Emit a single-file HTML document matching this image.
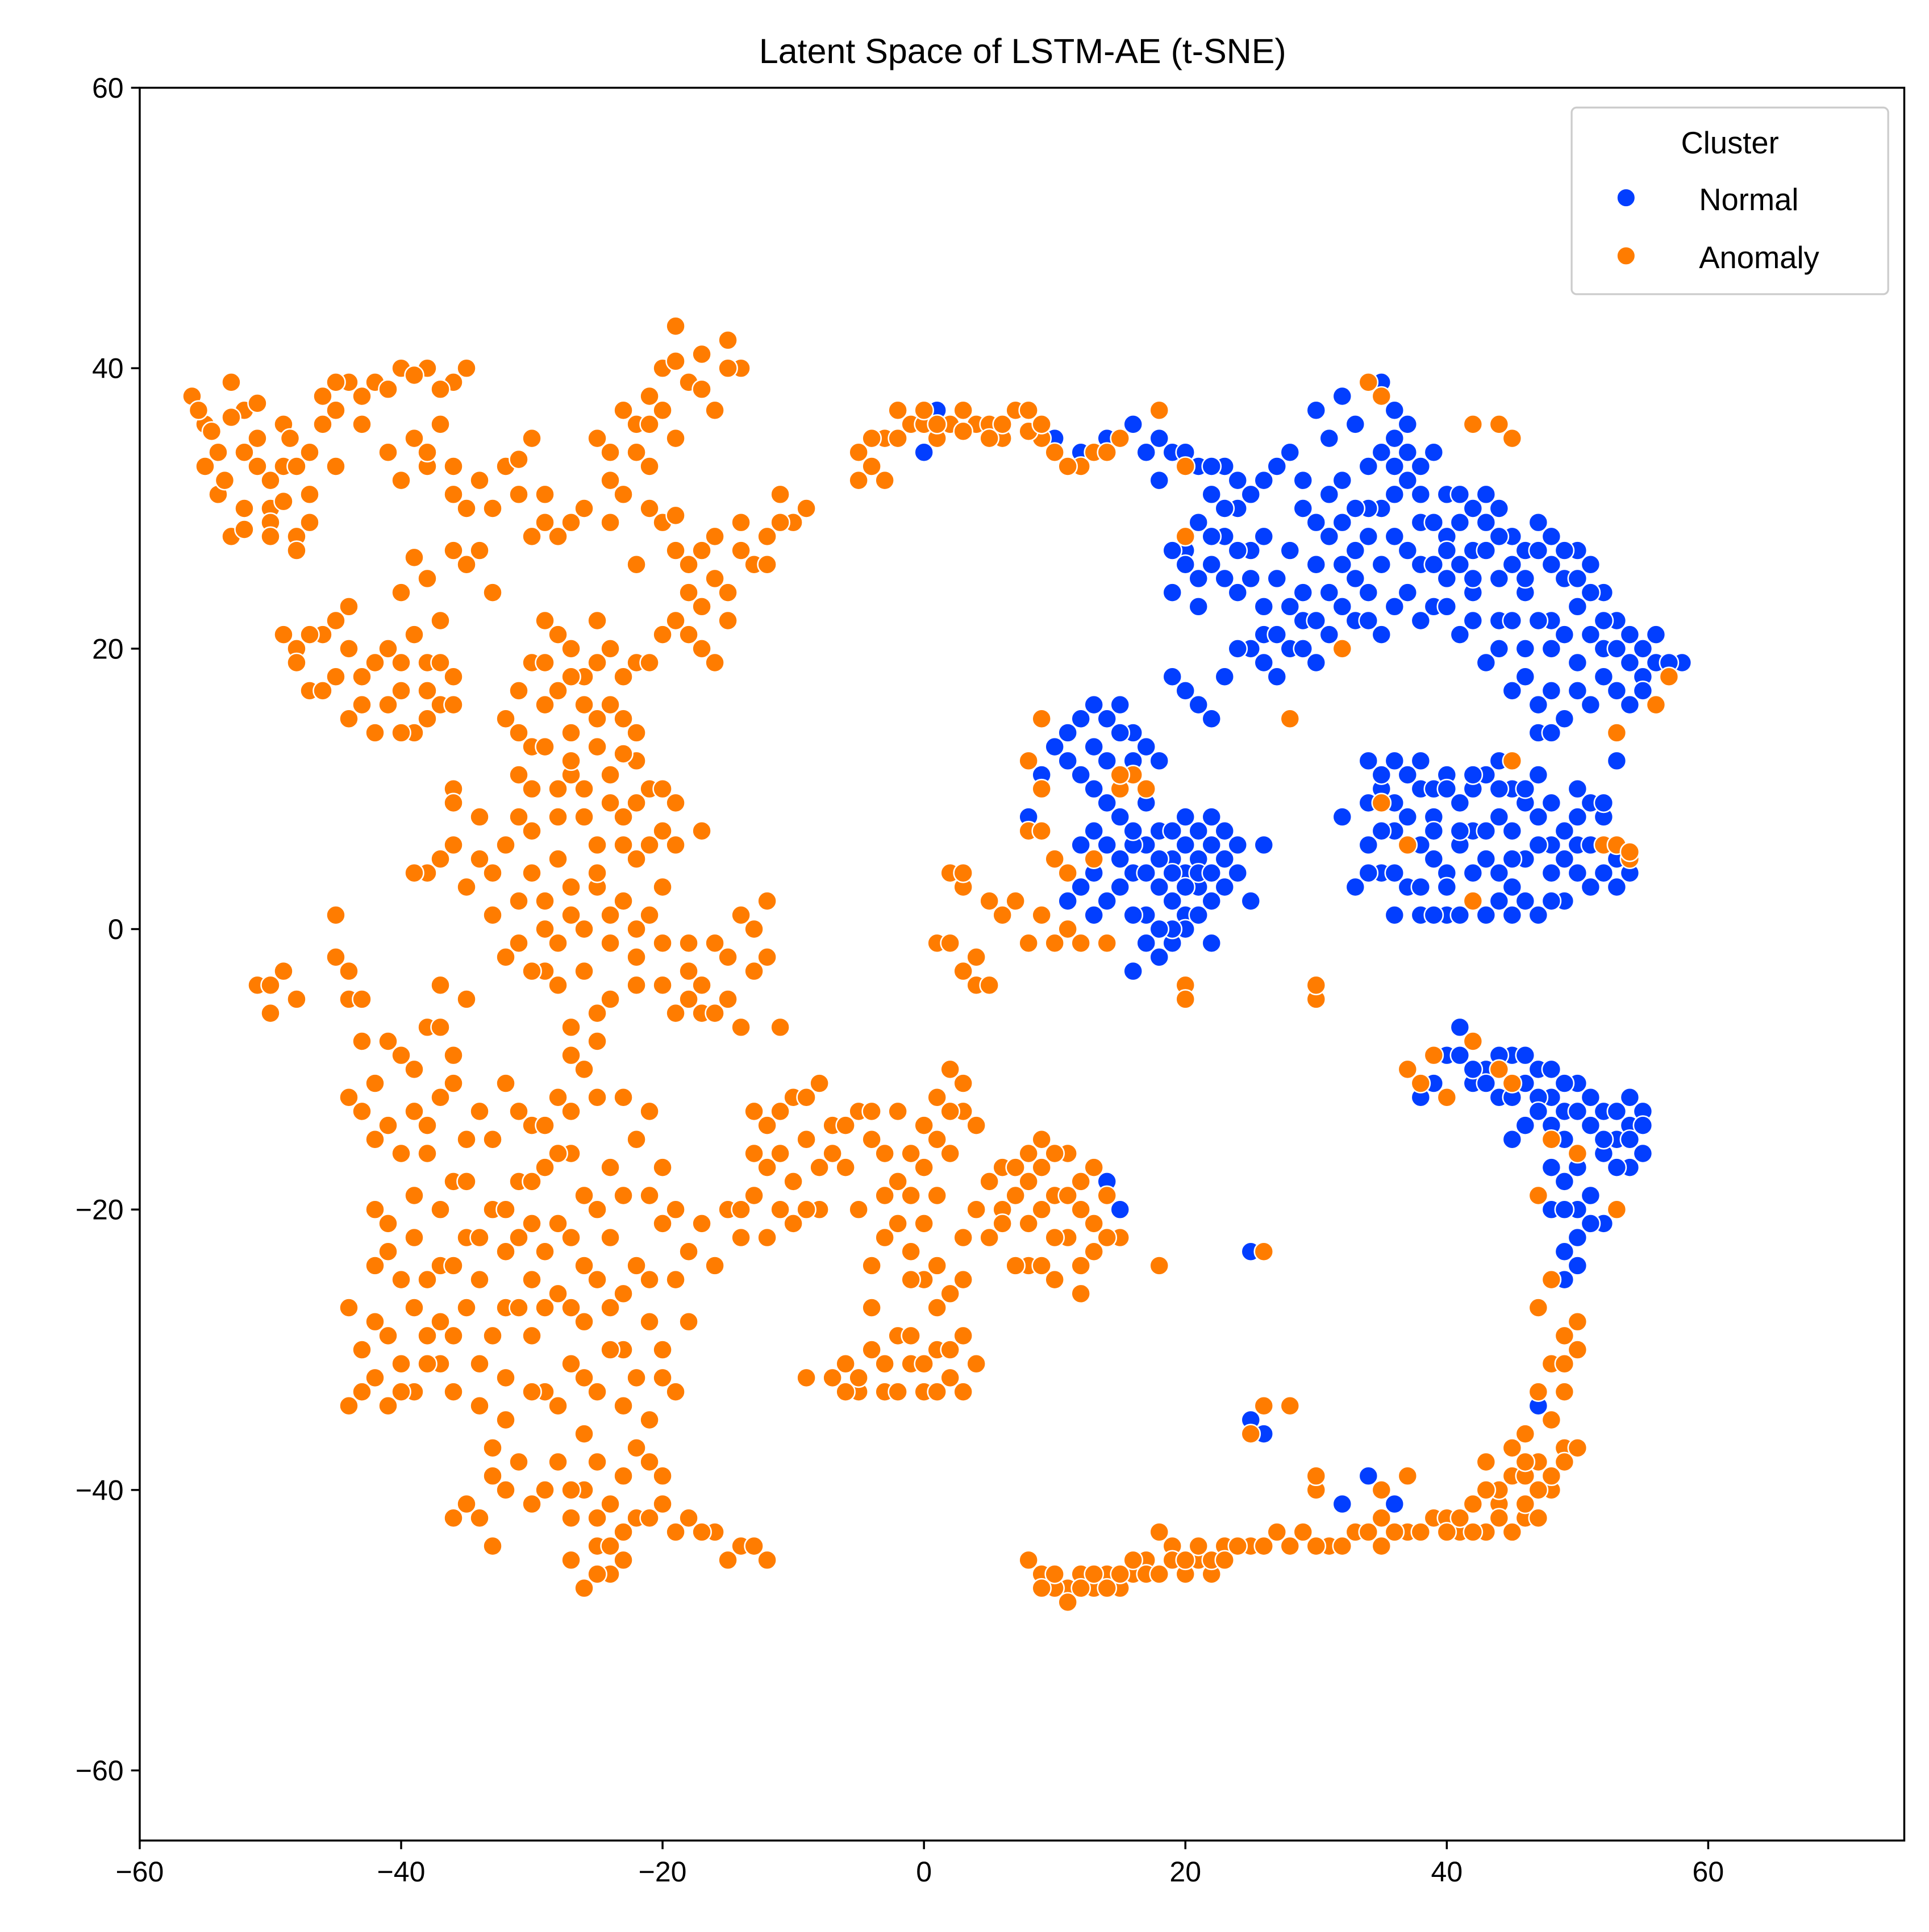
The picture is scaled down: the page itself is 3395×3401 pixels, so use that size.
<!DOCTYPE html>
<html><head><meta charset="utf-8"><style>
html,body{margin:0;padding:0;background:#fff}
svg{display:block;font-family:"Liberation Sans","DejaVu Sans",sans-serif}
</style></head><body>
<svg id="chart" width="3395" height="3401" viewBox="0 0 1560 1563" preserveAspectRatio="none" xmlns="http://www.w3.org/2000/svg">
<rect x="0" y="0" width="1560" height="1563" fill="#fff"/>
<text x="827" y="51" font-size="28" text-anchor="middle" fill="#000">Latent Space of LSTM-AE (t-SNE)</text>
<g id="points"></g>
<rect x="113" y="71" width="1427" height="1418" fill="none" stroke="#000" stroke-width="1.6"/>
<g id="xticks"></g>
<g id="yticks"></g>
<g>
<rect x="1271" y="87" width="256" height="151" rx="4" fill="#fff" fill-opacity="0.85" stroke="#ccc" stroke-width="1.5"/>
<text x="1399" y="124" font-size="25" text-anchor="middle">Cluster</text>
<circle cx="1315" cy="160" r="7.5" fill="#023eff" stroke="#fff" stroke-width="1.2"/>
<text x="1374" y="170" font-size="25">Normal</text>
<circle cx="1315" cy="207" r="7.5" fill="#ff7c00" stroke="#fff" stroke-width="1.2"/>
<text x="1374" y="217" font-size="25">Anomaly</text>
</g>
</svg>
<script>
const xTicks=[-60,-40,-20,0,20,40,60];
const yTicks=[60,40,20,0,-20,-40,-60];
const normalPts=[[1,37],[0,34],[2,36],[10,35],[12,34],[14,35],[16,36],[17,34],[18,32],[19,34],[21,33],[22,31],[23,33],[24,30],[26,32],[27,33],[28,34],[20,27],[21,25],[22,26],[23,28],[24,24],[19,27],[25,20],[26,21],[27,18],[28,20],[29,22],[30,19],[31,21],[32,23],[33,22],[34,22],[27,25],[28,27],[29,24],[30,26],[31,28],[32,29],[33,27],[34,28],[35,30],[36,31],[37,32],[38,33],[39,34],[40,31],[41,29],[42,30],[43,31],[44,30],[45,28],[46,27],[47,29],[48,26],[49,25],[50,27],[51,26],[52,24],[53,22],[54,21],[55,20],[56,19],[58,19],[53,17],[51,16],[49,15],[47,16],[45,17],[43,19],[41,21],[39,23],[38,26],[36,28],[34,30],[33,36],[32,38],[30,37],[31,35],[35,39],[36,37],[37,36],[44,22],[46,20],[48,20],[50,19],[52,20],[46,24],[44,25],[42,27],[40,25],[53,12],[55,18],[35,21],[37,24],[24,20],[26,23],[20,17],[19,18],[21,16],[22,15],[23,18],[32,26],[25,27],[29,32],[38,29],[40,28],[48,22],[50,23],[26,28],[42,24],[36,33],[47,14],
[18,35],[20,34],[22,33],[24,32],[25,31],[23,30],[21,29],[22,28],[24,27],[25,25],[23,25],[21,23],[19,24],[20,26],[26,19],[27,21],[28,23],[29,20],[30,22],[31,24],[30,29],[29,30],[31,31],[33,30],[32,32],[34,33],[35,34],[36,35],[37,34],[38,31],[39,29],[40,27],[41,26],[42,25],[43,27],[44,28],[45,26],[46,25],[47,27],[48,28],[49,27],[50,25],[51,24],[52,22],[53,20],[54,19],[55,17],[56,21],[57,19],[54,16],[52,18],[50,17],[48,17],[46,18],[44,20],[42,22],[40,23],[38,22],[36,23],[34,24],[33,25],[35,26],[37,27],[39,26],[41,31],[43,29],[47,22],[49,21],[51,21],[45,22],[48,14],
[10,13],[11,14],[12,15],[13,16],[14,15],[15,16],[16,14],[17,13],[18,12],[12,11],[14,9],[13,7],[15,5],[16,4],[17,6],[18,7],[19,5],[20,8],[21,7],[22,6],[23,5],[24,6],[18,3],[19,2],[20,1],[21,3],[22,2],[23,3],[17,-1],[18,-2],[19,-1],[20,0],[16,-3],[12,6],[11,2],[13,1],[15,3],[25,2],[26,6],[8,8],[9,11],[14,12],[22,-1],[20,4],[17,9],[19,7],[21,5],[16,6],
[11,12],[13,13],[15,14],[16,12],[13,10],[15,8],[16,7],[14,6],[17,4],[18,5],[19,4],[20,6],[21,4],[22,4],[20,3],[19,0],[17,1],[16,1],[14,2],[12,3],[13,4],[24,4],[23,7],[22,8],[21,1],[18,0],
[34,12],[35,10],[36,9],[37,11],[38,10],[39,8],[40,11],[41,9],[42,10],[43,11],[44,8],[45,7],[46,9],[47,8],[48,6],[49,5],[50,8],[51,9],[52,8],[53,5],[54,4],[51,3],[49,2],[47,1],[45,3],[43,5],[41,6],[39,5],[37,3],[35,4],[33,3],[34,6],[36,7],[38,6],[40,4],[42,2],[44,4],[46,5],[48,4],[50,6],[34,9],[32,8],[36,1],[38,1],[40,1],[43,1],[47,11],[44,12],[42,7],[45,10],[39,10],
[35,11],[36,12],[38,12],[40,10],[42,11],[44,10],[46,10],[48,9],[50,10],[52,9],[51,6],[49,7],[47,6],[45,5],[43,7],[41,7],[39,7],[37,8],[35,7],[34,4],[36,4],[38,3],[40,3],[42,4],[44,2],[46,2],[48,2],[50,4],[52,4],[53,3],[39,1],[41,1],[45,1],
[40,-9],[41,-7],[43,-10],[44,-12],[45,-9],[46,-11],[47,-10],[48,-12],[49,-13],[50,-11],[51,-14],[52,-13],[53,-15],[54,-14],[55,-13],[54,-17],[52,-16],[50,-20],[52,-21],[48,-17],[48,-20],[49,-23],[49,-25],[50,-28],[47,-34],[46,-14],[42,-11],[39,-11],[38,-12],[54,-12],[55,-16],[25,-23],[25,-35],[26,-36],[28,-34],[32,-41],[34,-39],[36,-41],[50,-17],[45,-15],[15,-20],[14,-18],
[41,-9],[42,-10],[44,-9],[46,-9],[47,-12],[48,-10],[49,-11],[50,-13],[51,-12],[52,-15],[53,-13],[55,-14],[54,-15],[53,-17],[51,-19],[51,-21],[49,-20],[49,-18],[48,-14],[49,-15],[47,-13],[45,-12],[43,-11],[50,-22],[50,-24]];
const anomalyPts=[[-56,38],[-55,36],[-54,34],[-53,39],[-52,37],[-51,35],[-50,30],[-49,33],[-48,28],[-47,31],[-46,38],[-45,37],[-44,39],[-42,39],[-40,40],[-38,40],[-36,39],[-35,40],[-37,36],[-39,35],[-41,34],[-40,32],[-38,33],[-36,31],[-34,32],[-32,33],[-30,35],[-31,31],[-29,29],[-28,28],[-26,30],[-54,31],[-52,30],[-50,29],[-48,27],[-53,28],[-55,33],[-51,33],[-47,34],[-49,36],[-43,36],[-45,33],
[-55.5,37],[-54.5,35.5],[-53,36.5],[-52,34],[-51,37.5],[-50,32],[-49,30.5],[-48,33],[-47,29],[-50,28],[-52,28.5],[-53.5,32],[-48.5,35],[-46,36],[-45,39],[-43,38],[-41,38.5],[-39,39.5],[-37,38.5],[-38,34],[-36,33],[-35,30],[-33,30],[-31,33.5],[-29,31],[-30,28],[-27,29],[-34,27],[-36,27],[-39,26.5],[-40,24],
[-25,35],[-24,32],[-23,37],[-22,36],[-21,38],[-20,40],[-19,43],[-18,39],[-17,41],[-15,42],[-14,40],[-16,37],[-19,35],[-21,33],[-24,29],[-20,29],[-18,26],[-17,23],[-15,24],[-13,26],[-12,28],[-10,29],[-9,30],[-11,31],[-14,29],[-16,28],[-19,27],[-22,26],[-18,21],[-16,19],[-15,22],[-20,21],[-22,19],[-24,20],[-26,18],[-28,21],[-30,19],[-29,16],[-27,14],[-25,15],[-24,11],[-22,12],[-30,13],[-32,15],[-31,11],[-28,10],[-26,8],[-23,8],[-21,10],[-20,7],[-19,9],[-17,7],[-22,5],[-20,3],[-21,1],[-23,2],[-25,3],[-27,1],[-29,0],[-31,-1],[-33,1],[-30,4],[-28,5],[-32,6],[-34,8],[-36,6],[-38,4],[-35,3],[-31,8],[-26,-3],[-24,-5],[-27,-7],[-22,-2],[-20,-4],[-18,-3],[-16,-1],[-14,1],[-12,2],[-13,-3],[-15,-5],[-17,-6],[-19,-6],[-11,-7],[-14,-7],[-27,18],[-25,22],[-29,22],[-31,17],[-23,15],[-27,11],[-25,6],[-29,-3],[-24,-1],
[-24,34],[-22,34],[-20,37],[-19,40.5],[-17,38.5],[-15,40],[-21,36],[-23,31],[-21,30],[-19,29.5],[-17,27],[-18,24],[-16,25],[-14,27],[-12,26],[-11,29],[-19,22],[-17,20],[-21,19],[-23,18],[-25,19],[-27,20],[-29,19],[-28,17],[-26,16],[-24,16],[-22,14],[-23,12.5],[-25,13],[-27,12],[-29,13],[-31,14],[-30,10],[-28,8],[-26,10],[-24,9],[-22,9],[-20,10],[-19,6],[-21,6],[-23,6],[-25,4],[-27,3],[-29,2],[-31,2],[-33,4],[-32,-2],[-30,-3],[-28,-1],[-26,0],[-24,1],[-22,0],[-20,-1],[-18,-1],[-17,-4],[-15,-2],[-13,0],[-12,-2],[-16,-6],[-18,-5],[-22,-4],[-25,-6],[-27,-9],[-28,-4],[-30,7],[-34,5],[-37,5],[-36,10],
[-46,21],[-44,23],[-45,18],[-43,16],[-42,14],[-40,17],[-38,19],[-37,16],[-36,18],[-39,14],[-41,20],[-48,20],[-47,17],[-37,22],[-36,9],[-38,25],[-35,26],[-33,24],[-49,21],[-42,19],
[-47,21],[-45,22],[-44,20],[-43,18],[-41,16],[-40,19],[-39,21],[-38,17],[-37,19],[-36,16],[-38,15],[-40,14],[-44,15],[-46,17],[-48,19],
[-51,-4],[-50,-6],[-49,-3],[-44,-5],[-43,-8],[-42,-11],[-40,-9],[-41,-14],[-39,-13],[-37,-12],[-38,-7],[-36,-9],[-35,-5],[-37,-4],[-43,-13],[-44,-3],[-45,1],[-39,4],[-40,-16],[-34,-13],[-32,-11],[-30,-14],[-28,-12],[-26,-10],[-25,-8],[-27,-16],[-29,-17],[-31,-18],[-33,-20],[-35,-22],[-37,-24],[-39,-22],[-41,-23],[-42,-20],[-34,-25],[-32,-23],[-30,-25],[-28,-21],[-26,-19],[-24,-17],[-22,-15],[-20,-17],[-24,-22],[-22,-24],[-20,-21],[-18,-23],[-21,-28],[-23,-30],[-26,-28],[-28,-26],[-30,-29],[-32,-32],[-34,-31],[-36,-33],[-38,-29],[-40,-31],[-42,-28],[-44,-27],[-43,-33],[-41,-34],[-39,-33],[-37,-28],[-29,-33],[-27,-31],[-25,-33],[-23,-34],[-21,-35],[-20,-32],[-22,-37],[-20,-39],[-26,-36],[-28,-38],[-26,-40],[-24,-41],[-25,-44],[-24,-46],[-26,-47],[-22,-42],[-20,-41],[-18,-42],[-16,-43],[-14,-44],[-12,-45],[-33,-37],[-32,-40],[-30,-41],[-34,-42],[-36,-42],[-33,-44],[-30,-21],[-26,-24],[-36,-18],[-38,-16],[-32,-27],[-24,-27],[-28,-16],[-18,-28],
[-50,-4],[-48,-5],[-45,-2],[-43,-5],[-41,-8],[-39,-10],[-37,-7],[-36,-11],[-42,-15],[-44,-12],[-38,-14],[-35,-15],[-33,-15],[-31,-13],[-29,-14],[-27,-13],[-25,-12],[-23,-12],[-21,-13],[-30,-18],[-32,-20],[-34,-22],[-36,-24],[-38,-25],[-40,-25],[-42,-24],[-41,-21],[-39,-19],[-37,-20],[-35,-18],[-31,-22],[-29,-23],[-27,-22],[-25,-20],[-23,-19],[-21,-19],[-19,-20],[-17,-21],[-19,-25],[-21,-25],[-23,-26],[-25,-25],[-27,-27],[-29,-27],[-31,-27],[-33,-29],[-35,-27],[-37,-31],[-39,-27],[-41,-29],[-43,-30],[-42,-32],[-44,-34],[-40,-33],[-38,-31],[-36,-29],[-34,-34],[-32,-35],[-30,-33],[-28,-34],[-26,-32],[-24,-30],[-22,-32],[-20,-30],[-19,-33],[-21,-38],[-23,-39],[-25,-38],[-27,-40],[-29,-40],[-27,-42],[-25,-42],[-23,-43],[-21,-42],[-19,-43],[-17,-43],[-15,-45],[-13,-44],[-24,-44],[-25,-46],[-31,-38],[-33,-39],[-35,-41],[-27,-45],[-23,-45],
[-12,-14],[-10,-12],[-8,-11],[-11,-16],[-13,-19],[-14,-22],[-12,-22],[-10,-21],[-8,-20],[-6,-17],[-7,-14],[-9,-15],[-15,-20],[-16,-24],[-5,-13],[-4,-15],[-3,-19],[-2,-21],[-1,-16],[0,-14],[1,-12],[2,-10],[3,-13],[2,-16],[-1,-23],[0,-25],[1,-27],[3,-25],[4,-20],[5,-22],[6,-17],[7,-19],[8,-21],[9,-17],[10,-19],[11,-16],[12,-18],[13,-21],[12,-24],[10,-25],[8,-24],[11,-22],[14,-19],[15,-22],[9,-15],[-6,-31],[-5,-33],[-3,-33],[-2,-29],[-1,-31],[-4,-27],[-7,-32],[-9,-32],[0,-33],[1,-30],[2,-32],[3,-29],[4,-31],[-4,-24],[-3,-22],[-2,-13],[1,-19],[6,-20],[-5,-20],
[-13,-13],[-11,-13],[-9,-12],[-12,-17],[-13,-16],[-10,-18],[-8,-17],[-7,-16],[-9,-20],[-11,-20],[-14,-20],[-6,-14],[-4,-13],[-3,-16],[-2,-18],[-1,-19],[0,-17],[1,-15],[2,-13],[3,-11],[4,-14],[0,-21],[-1,-25],[1,-24],[2,-26],[3,-22],[5,-18],[6,-21],[7,-17],[8,-18],[9,-20],[10,-22],[11,-19],[12,-20],[13,-17],[14,-22],[12,-26],[9,-24],[7,-24],[13,-23],[-5,-32],[-4,-30],[-3,-31],[-2,-33],[0,-31],[1,-33],[2,-30],[3,-33],[-1,-29],[-6,-33],[10,-16],[8,-16],
[-5,34],[-4,33],[-3,35],[-2,37],[-1,36],[0,36],[1,35],[2,36],[3,37],[4,36],[5,36],[6,35],[7,37],[8,37],[9,35],[10,34],[12,33],[13,34],[15,35],[18,37],[20,33],[20,28],
[-4,35],[-2,35],[0,37],[1,36],[3,35.5],[5,35],[6,36],[8,35.5],[9,36],[11,33],[-5,32],[-3,32],
[2,4],[3,3],[5,2],[7,2],[8,7],[9,1],[10,5],[8,-1],[10,-1],[12,-1],[1,-1],[2,-1],[3,-3],[4,-4],[5,-4],[4,-2],[9,10],[8,12],[14,-1],[13,5],[11,4],[15,10],[16,11],[17,10],[20,-4],[20,-5],[30,-5],[30,-4],[26,-23],[18,-24],[26,-34],[28,-34],[25,-36],[38,-11],[37,-10],[40,-12],[39,-9],[42,-8],[44,-10],[45,-11],[48,-15],[50,-16],[47,-19],[53,-20],[48,-25],[47,-27],[49,-29],[50,-28],[48,-31],[47,-33],[46,-36],[47,-38],[48,-40],[46,-42],[44,-41],[45,-39],[49,-37],[50,-37],[43,-38],[42,-41],[41,-43],[39,-42],[37,-43],[35,-44],[33,-43],[31,-44],[29,-43],[27,-43],[25,-44],[23,-44],[21,-45],[19,-44],[18,-43],[17,-45],[16,-46],[14,-46],[12,-46],[11,-47],[10,-47],[9,-46],[8,-45],[13,-47],[15,-47],[20,-46],[22,-46],[24,-44],[30,-40],[30,-39],[37,-39],[35,-40],[40,-42],[43,-43],[44,-40],[45,-43],[47,-42],[35,-42],[52,6],[54,5],[56,16],[57,18],[53,14],[45,12],[42,2],[35,9],[37,6],[32,20],[28,15],[34,39],[35,38],[42,36],[44,36],[45,35],[9,15],[14,34],[15,35],
[9,-47],[10,-46],[11,-48],[12,-47],[13,-46],[14,-47],[15,-46],[16,-45],[17,-46],[18,-46],[19,-45],[20,-45],[21,-44],[22,-45],[23,-45],[26,-44],[28,-44],[30,-44],[32,-44],[34,-43],[36,-43],[38,-43],[40,-43],[42,-43],[44,-42],[46,-41],[47,-40],[48,-39],[49,-38],[46,-39],[45,-37],[46,-38],[48,-35],[49,-33],[49,-31],[50,-30],[43,-40],[41,-42],
[9,7],[3,4],[6,1],[11,0],[15,11],[53,6],[54,5.5]];
const X0=-60,X1=75,Y0=-65,Y1=60,L=113,R=1540,T=71,B=1489;
function sx(v){return L+(v-X0)/(X1-X0)*(R-L);}
function sy(v){return B-(v-Y0)/(Y1-Y0)*(B-T);}
const NS='http://www.w3.org/2000/svg';
const g=document.getElementById('points');
function draw(pts,color,name){
  pts.forEach(p=>{
    const c=document.createElementNS(NS,'circle');
    c.setAttribute('cx',sx(p[0]));c.setAttribute('cy',sy(p[1]));
    c.setAttribute('r',7.6);c.setAttribute('fill',color);
    c.setAttribute('stroke','#fff');c.setAttribute('stroke-width',1.2);
    
    
    g.appendChild(c);
  });
}
draw(normalPts,'#023eff','normal-point');
draw(anomalyPts,'#ff7c00','anomaly-point');
const xg=document.getElementById('xticks');
xTicks.forEach(v=>{
  const x=sx(v);
  const l=document.createElementNS(NS,'line');
  l.setAttribute('x1',x);l.setAttribute('x2',x);l.setAttribute('y1',B);l.setAttribute('y2',B+7);
  l.setAttribute('stroke','#000');l.setAttribute('stroke-width',1.6);
  
  
  xg.appendChild(l);
  const t=document.createElementNS(NS,'text');
  t.setAttribute('x',x);t.setAttribute('y',B+33);t.setAttribute('font-size',23);t.setAttribute('text-anchor','middle');
  t.textContent=(v<0?'\u2212'+Math.abs(v):String(v));
  
  
  xg.appendChild(t);
});
const yg=document.getElementById('yticks');
yTicks.forEach(v=>{
  const y=sy(v);
  const l=document.createElementNS(NS,'line');
  l.setAttribute('x1',L-7);l.setAttribute('x2',L);l.setAttribute('y1',y);l.setAttribute('y2',y);
  l.setAttribute('stroke','#000');l.setAttribute('stroke-width',1.6);
  
  
  yg.appendChild(l);
  const t=document.createElementNS(NS,'text');
  t.setAttribute('x',L-13);t.setAttribute('y',y+8);t.setAttribute('font-size',23);t.setAttribute('text-anchor','end');
  t.textContent=(v<0?'\u2212'+Math.abs(v):String(v));
  
  
  yg.appendChild(t);
});
</script>
</body></html>
